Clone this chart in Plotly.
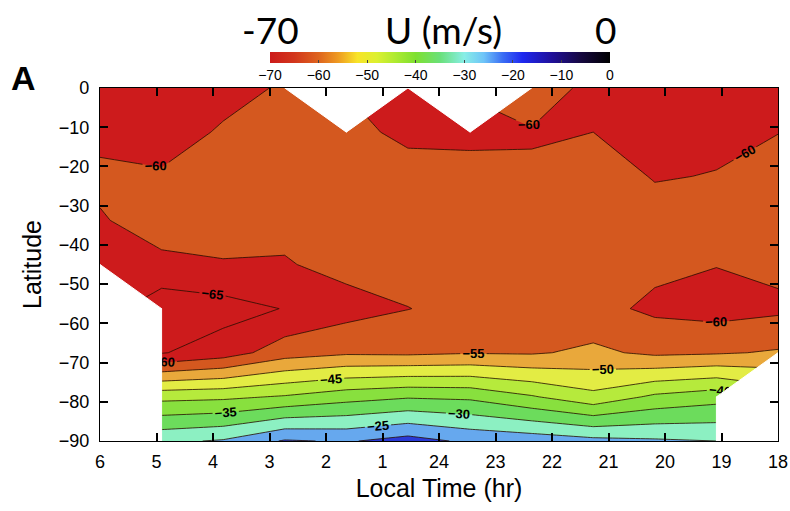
import math
import plotly.graph_objects as go

# ---------------- data ----------------
# grid positions along the time axis (hours after 06 LT, going backwards through midnight)
x_grid = [0.0, 1.09, 2.18, 3.27, 4.36, 5.45, 6.55, 7.64, 8.73, 9.82, 10.91, 12.0]
# latitude grid
lat_grid = [0.0, -11.25, -22.5, -33.75, -45.0, -56.25, -67.5, -78.75, -90.0]
nan = float("nan")
# zonal wind U (m/s); one list per local-time column (top -> bottom latitude)
u_cols = [
    [-63, -62, -58.5, -60.6, -63, nan, nan, nan, nan],
    [-63, -62, -59.5, -57, -61.5, -68, -65.3, -41.5, -26],
    [-61.5, -59.5, -58.5, -58, -60.3, -67, -62.5, -41, -24.5],
    [-59.5, -58.5, -58, -58.5, -60.4, -64.8, -57.3, -39.5, -19.5],
    [nan, -59, -58, -58, -58.4, -62, -55.75, -37, -20.5],
    [-62, -60.8, -58.6, -57, -58, -60.1, -56, -35.5, -18],
    [nan, -61, -58.6, -57, -57.5, -58.5, -55.3, -36, -21],
    [-56, -60.5, -59.2, -57, -57.5, -58.5, -55.5, -39.5, -22],
    [-62, -60.0, -57, -57, -57.5, -58.5, -54, -43.5, -23.5],
    [-63, -62.5, -60.4, -57.5, -58.9, -61, -56, -39, -24.3],
    [-63, -61.5, -59.75, -57.5, -59.85, -62, -55.5, -37, -25],
    [-62, -60.1, -58, -57, -58.8, -61, -54.5, nan, nan],
]
x_tickvals = [0, 1, 2, 3, 4, 5, 6, 7, 8, 9, 10, 11, 12]
x_ticktext = ["6", "5", "4", "3", "2", "1", "24", "23", "22", "21", "20", "19", "18"]
y_tickvals = [0, -10, -20, -30, -40, -50, -60, -70, -80, -90]
cb_tickvals = [-70, -60, -50, -40, -30, -20, -10, 0]

# fill colour of each 5 m/s band from -70 to 0
band_colors = [
    "#cd1b1c", "#cd1b1c", "#d4581f", "#e9a83b", "#e3ec44", "#b6ea3c", "#88e03e",
    "#6cdc5c", "#8cf0c2", "#66a8ee", "#2a3ad6", "#1c1a9a", "#180a50", "#080010",
]
# continuous colour bar
cb_stops = [
    (-70, "#cc1a1a"), (-65, "#d2361c"), (-60, "#de641e"), (-56, "#ee9a22"),
    (-52, "#f8e428"), (-48, "#dcf030"), (-44, "#acea30"), (-40, "#7ee030"),
    (-35, "#6ae07a"), (-30, "#88eee6"), (-26, "#6ec4f8"), (-22, "#3a6cf4"),
    (-18, "#1e28f0"), (-12, "#20109a"), (-6, "#160840"), (0, "#000000"),
]

# ---------------- figure ----------------
nx, ny = len(x_grid), len(lat_grid)
z = [[u_cols[i][j] for i in range(nx)] for j in range(ny)]

nb = len(band_colors)
nlev = nb + 1
fill_scale = [[0.0, band_colors[0]]]
for i, c in enumerate(band_colors):
    fill_scale.append([(i + 0.5) / nlev, c])
    fill_scale.append([min(1.0, (i + 1.5) / nlev), c])
fill_scale.append([1.0, band_colors[-1]])

font = "Arial, Liberation Sans"

fig = go.Figure()
fig.add_trace(go.Contour(
    x=x_grid, y=lat_grid, z=z,
    autocontour=False,
    contours=dict(start=-70, end=0, size=5, coloring="fill", showlabels=True,
                  labelfont=dict(size=13, color="black", family=font, weight="bold")),
    colorscale=fill_scale,
    line=dict(color="rgba(40,15,0,0.9)", width=0.9, smoothing=0),
    showscale=False, hoverinfo="skip",
))

# white masks where there is no data (derived from NaN grid points)
mx, my = [], []
for j in range(ny - 1):
    for i in range(nx - 1):
        ring = [(i, j), (i + 1, j), (i + 1, j + 1), (i, j + 1)]
        bad = [k for k, (a, b) in enumerate(ring) if math.isnan(u_cols[a][b])]
        if not bad:
            continue
        if len(bad) == 1:
            k = bad[0]
            poly = [ring[(k - 1) % 4], ring[k], ring[(k + 1) % 4]]
        else:
            poly = ring
        for a, b in poly + [poly[0]]:
            mx.append(x_grid[a])
            my.append(lat_grid[b])
        mx.append(None)
        my.append(None)
fig.add_trace(go.Scatter(x=mx, y=my, mode="lines", fill="toself", fillcolor="white",
                         line=dict(color="white", width=1), hoverinfo="skip", showlegend=False))

L, T, R, B = 100, 88, 12, 70
W, H = 790 - L - R, 511 - T - B

# colour bar (continuous)
cb_scale = [[(v + 70) / 70, c] for v, c in cb_stops]
fig.add_trace(go.Scatter(
    x=[6, 6], y=[-45, -45], mode="markers",
    marker=dict(size=0.1, opacity=0, color=[-70, 0], cmin=-70, cmax=0, colorscale=cb_scale,
                showscale=True,
                colorbar=dict(orientation="h", x=(440 - L) / W, xanchor="center",
                              y=(T + H - 52) / H, yanchor="top",
                              len=340, lenmode="pixels", thickness=11, thicknessmode="pixels",
                              xpad=0, ypad=0, outlinewidth=0,
                              tickvals=cb_tickvals, ticks="inside", ticklen=3, tickcolor="#444",
                              tickfont=dict(size=14, color="black", family=font))),
    hoverinfo="skip", showlegend=False,
))

fig.update_layout(
    width=790, height=511,
    margin=dict(l=L, r=R, t=T, b=B, autoexpand=False),
    paper_bgcolor="white", plot_bgcolor="white",
    showlegend=False,
    font=dict(family=font, color="black"),
    xaxis=dict(range=[0, 12], tickvals=x_tickvals, ticktext=x_ticktext,
               ticks="inside", ticklen=8, tickwidth=1.5, tickcolor="black",
               showline=True, linecolor="black", linewidth=1.2, mirror="ticks",
               showgrid=False, zeroline=False, tickfont=dict(size=18, family=font),
               ticklabelstandoff=4,
               title=dict(text="Local Time (hr)", font=dict(size=25, family=font), standoff=8)),
    yaxis=dict(range=[-90, 0], tickvals=y_tickvals,
               ticks="inside", ticklen=8, tickwidth=1.5, tickcolor="black",
               showline=True, linecolor="black", linewidth=1.2, mirror="ticks",
               showgrid=False, zeroline=False, tickfont=dict(size=18, family=font),
               ticklabelstandoff=6,
               title=dict(text="Latitude", font=dict(size=25, family=font), standoff=10)),
)

annots = [
    ("<b>A</b>", 23, 78, 34, font),
    ("-70", 270, 30, 37, "Lato, Open Sans"),
    ("U (m/s)", 443, 30, 37, "Lato, Open Sans"),
    ("0", 605, 30, 37, "Lato, Open Sans"),
]
for text, px, py, size, fam in annots:
    fig.add_annotation(text=text, x=(px - L) / W, y=(T + H - py) / H, xref="paper", yref="paper",
                       xanchor="center", yanchor="middle", showarrow=False,
                       font=dict(size=size, family=fam, color="black"))

fig.write_html("out.html")
